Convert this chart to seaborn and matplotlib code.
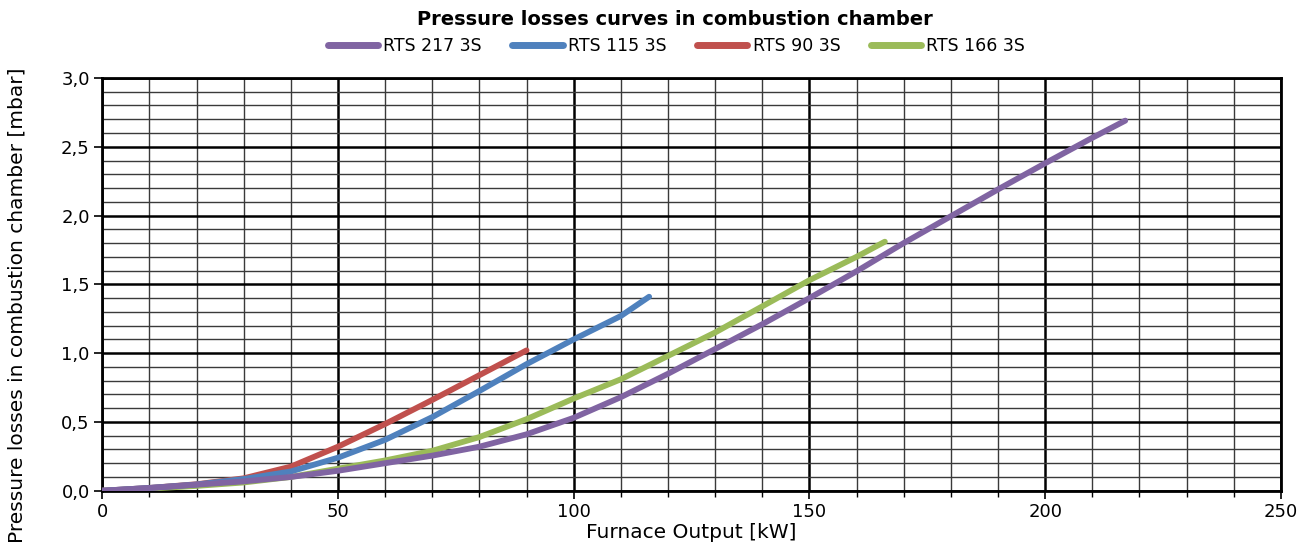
import numpy as np
import pandas as pd
import matplotlib
matplotlib.use("Agg")
import matplotlib.pyplot as plt
import seaborn as sns
from matplotlib.ticker import MultipleLocator, FuncFormatter

# data (kW -> mbar)
series_names = ["RTS 217 3S", "RTS 115 3S", "RTS 90 3S", "RTS 166 3S"]
series_colors = ["#8064A2", "#4F81BD", "#C0504D", "#9BBB59"]

x_217 = [0, 10, 20, 30, 40, 50, 60, 70, 80, 90, 100, 110, 120, 130, 140, 150,
         160, 170, 180, 190, 200, 210, 217]
y_217 = [0, 0.02, 0.044, 0.068, 0.10, 0.145, 0.20, 0.255, 0.32, 0.41, 0.53,
         0.68, 0.85, 1.03, 1.21, 1.40, 1.595, 1.80, 1.995, 2.19, 2.38, 2.565, 2.69]

x_115 = [0, 10, 20, 30, 40, 50, 60, 70, 80, 90, 100, 110, 116]
y_115 = [0, 0.02, 0.045, 0.085, 0.14, 0.24, 0.37, 0.535, 0.725, 0.92, 1.10, 1.27, 1.41]

x_90 = [0, 10, 20, 30, 40, 50, 60, 70, 80, 90]
y_90 = [0, 0.02, 0.047, 0.09, 0.175, 0.32, 0.485, 0.66, 0.84, 1.02]

x_166 = [0, 10, 20, 30, 40, 50, 60, 70, 80, 90, 100, 110, 120, 130, 140, 150, 160, 166]
y_166 = [0, 0.015, 0.035, 0.06, 0.10, 0.16, 0.22, 0.29, 0.39, 0.52, 0.67, 0.81,
         0.98, 1.15, 1.34, 1.53, 1.70, 1.81]

x_ticks = [0, 50, 100, 150, 200, 250]
y_ticks = [0.0, 0.5, 1.0, 1.5, 2.0, 2.5, 3.0]

frames = []
for name, xs, ys in zip(series_names, [x_217, x_115, x_90, x_166], [y_217, y_115, y_90, y_166]):
    frames.append(pd.DataFrame({"kW": xs, "mbar": ys, "series": name}))
df = pd.concat(frames, ignore_index=True)

sns.set_theme(style="white")
plt.rcParams["font.family"] = ["DejaVu Sans"]
plt.rcParams["text.color"] = "black"
plt.rcParams["axes.labelcolor"] = "black"
plt.rcParams["xtick.color"] = "black"
plt.rcParams["ytick.color"] = "black"

fig = plt.figure(figsize=(13.11, 5.57), dpi=100)
ax = fig.add_axes([0.078, 0.119, 0.899, 0.741])

palette = dict(zip(series_names, series_colors))
# draw order so the purple curve sits on top like in the original
for name in ["RTS 166 3S", "RTS 90 3S", "RTS 115 3S", "RTS 217 3S"]:
    sns.lineplot(data=df[df["series"] == name], x="kW", y="mbar", color=palette[name],
                 lw=4.2, ax=ax, solid_capstyle="round", solid_joinstyle="round",
                 zorder=3, legend=False, sort=False)

ax.set_xlim(0, 250)
ax.set_ylim(0, 3.0)
ax.set_xticks(x_ticks)
ax.set_yticks(y_ticks)
ax.xaxis.set_minor_locator(MultipleLocator(10))
ax.yaxis.set_minor_locator(MultipleLocator(0.1))
ax.yaxis.set_major_formatter(FuncFormatter(lambda v, p: f"{v:.1f}".replace(".", ",")))

ax.grid(which="major", color="black", lw=1.8, zorder=1)
ax.grid(which="minor", color="#3a3a3a", lw=1.0, zorder=1)
ax.set_axisbelow(True)
for sp in ax.spines.values():
    sp.set_color("black")
    sp.set_linewidth(2)

ax.tick_params(axis="both", which="major", direction="out", length=6, width=1.2,
               color="black", labelsize=13, bottom=True, left=True, pad=3)
ax.tick_params(axis="x", which="minor", direction="out", length=4, width=1,
               color="black", bottom=True)
ax.tick_params(axis="y", which="minor", length=0)

ax.set_xlabel("Furnace Output [kW]", fontsize=14.5, labelpad=1)
ax.set_ylabel("Pressure losses in combustion chamber [mbar]", fontsize=14.5)
ax.yaxis.set_label_coords(-0.064, 0.45)

fig.text(0.515, 0.965, "Pressure losses curves in combustion chamber",
         ha="center", va="center", fontsize=14, fontweight="bold")

handles = [plt.Line2D([0], [0], color=c, lw=5, solid_capstyle="round") for c in series_colors]
fig.legend(handles, series_names, loc="center", bbox_to_anchor=(0.516, 0.918), ncol=4,
           frameon=False, fontsize=12.5, handlelength=2.9, handletextpad=0.3,
           columnspacing=1.75)

fig.savefig("out.png", dpi=100)
